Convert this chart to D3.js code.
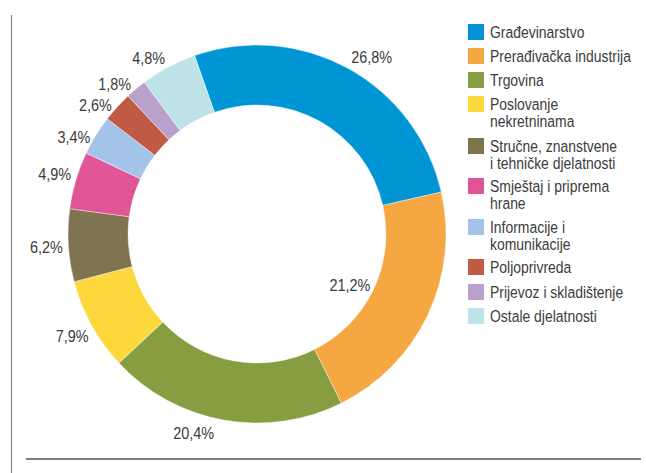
<!DOCTYPE html>
<html>
<head>
<meta charset="utf-8">
<script src="https://cdn.jsdelivr.net/npm/d3@7"></script>
<style>
  body { margin: 0; background: #fff; }
  svg { display: block; }
</style>
</head>
<body>
<div id="chart"></div>
<script>
// data
const categories = [
    "Građevinarstvo",
    "Prerađivačka industrija",
    "Trgovina",
    "Poslovanje nekretninama",
    "Stručne, znanstvene i tehničke djelatnosti",
    "Smještaj i priprema hrane",
    "Informacije i komunikacije",
    "Poljoprivreda",
    "Prijevoz i skladištenje",
    "Ostale djelatnosti"
];
// legend text broken in lines as in the original
const legendLines = [
    ["Građevinarstvo"],
    ["Prerađivačka industrija"],
    ["Trgovina"],
    ["Poslovanje", "nekretninama"],
    ["Stručne, znanstvene", "i tehničke djelatnosti"],
    ["Smještaj i priprema", "hrane"],
    ["Informacije i", "komunikacije"],
    ["Poljoprivreda"],
    ["Prijevoz i skladištenje"],
    ["Ostale djelatnosti"]
];
const values = [26.8, 21.2, 20.4, 7.9, 6.2, 4.9, 3.4, 2.6, 1.8, 4.8];
const colors = ["#0096d6", "#f5a742", "#869e41", "#fcd83c", "#7f7350",
                "#e05596", "#a3c4e8", "#bf5b45", "#b9a1cc", "#bde2e8"];

const width = 646, height = 473;
const cx = 257, cy = 234;
const outerR = 189, innerR = 129;
const startAngle = -19.3 * Math.PI / 180;
// no condensed face installed, so squeeze Liberation Sans horizontally
const font = "'Liberation Sans', Arial, sans-serif";
const squeeze = 0.82;
const textColor = "#3c3c3c";
const deg = Math.PI / 180;

const svg = d3.select("#chart").append("svg")
    .attr("width", width)
    .attr("height", height);

// frame lines
svg.append("line")
    .attr("x1", 11.5).attr("x2", 11.5)
    .attr("y1", 15).attr("y2", height)
    .attr("stroke", "#888").attr("stroke-width", 1.2);
svg.append("line")
    .attr("x1", 26).attr("x2", 641)
    .attr("y1", 459).attr("y2", 459)
    .attr("stroke", "#555").attr("stroke-width", 1.5);

const color = d3.scaleOrdinal(categories, colors);

const pie = d3.pie()
    .sort(null)
    .value(d => d.value)
    .startAngle(startAngle)
    .endAngle(startAngle + 2 * Math.PI);

const data = categories.map((c, i) => ({name: c, value: values[i]}));
const arcs = pie(data);

const arc = d3.arc().innerRadius(innerR).outerRadius(outerR);

const g = svg.append("g").attr("transform", `translate(${cx},${cy})`);

g.selectAll("path")
    .data(arcs)
    .join("path")
    .attr("d", arc)
    .attr("fill", d => color(d.data.name))
    .attr("stroke", "#fff")
    .attr("stroke-width", 0.4);

// labels - most sit just outside the ring, the big orange one sits in the hole
function labelPos(d, i) {
    let a = (d.startAngle + d.endAngle) / 2;
    let r = 211;
    if (i === 0) a += 4 * deg;
    if (i === 1) { r = 106; a += 3.5 * deg; }
    if (i === 2) { r = 209; a += 7.4 * deg; }
    if (i >= 6) { r = 207; a -= 3.6 * deg; }
    return [Math.sin(a) * r, -Math.cos(a) * r];
}

g.selectAll("g.lbl")
    .data(arcs)
    .join("g")
    .attr("class", "lbl")
    .attr("transform", (d, i) => `translate(${labelPos(d, i)}) scale(0.85,1)`)
    .append("text")
    .attr("text-anchor", "middle")
    .attr("dy", "0.35em")
    .attr("font-family", font)
    .attr("font-size", 17)
    .attr("fill", textColor)
    .text(d => d3.format(".1f")(d.data.value).replace(".", ",") + "%");

// legend
const rowY = [32, 56, 80, 104, 146, 186, 227, 267, 292, 316];
const legend = svg.append("g");
const item = legend.selectAll("g")
    .data(categories)
    .join("g")
    .attr("transform", (d, i) => `translate(468,${rowY[i]})`);

item.append("rect")
    .attr("x", 0).attr("y", -8)
    .attr("width", 16).attr("height", 16)
    .attr("fill", d => color(d));

item.append("g")
    .attr("transform", `translate(22,0) scale(${squeeze},1)`)
    .append("text")
    .attr("font-family", font)
    .attr("font-size", 17)
    .attr("fill", textColor)
    .selectAll("tspan")
    .data((d, i) => legendLines[i])
    .join("tspan")
    .attr("x", 0)
    .attr("y", (d, j) => j * 17)
    .attr("dy", "0.35em")
    .text(d => d);
</script>
</body>
</html>
